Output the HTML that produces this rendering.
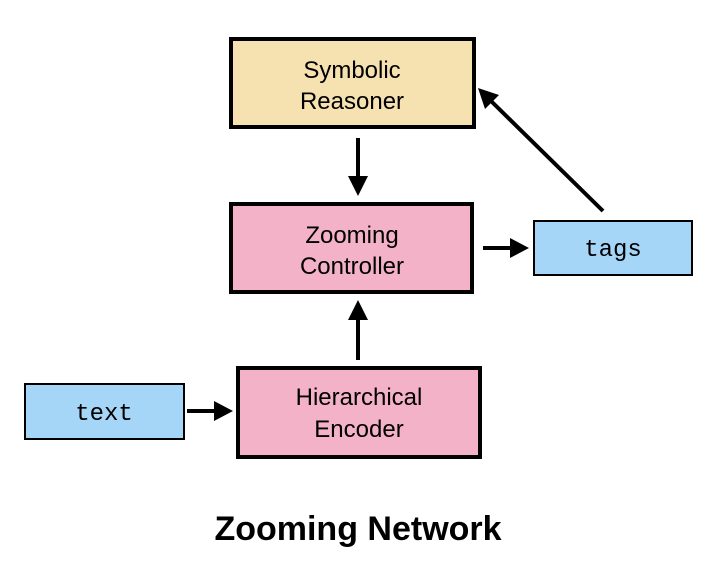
<!DOCTYPE html>
<html><head><style>
body{margin:0;width:720px;height:562px;background:#fff;overflow:hidden}
</style></head><body>
<svg width="720" height="562" xmlns="http://www.w3.org/2000/svg">
<g font-family="Liberation Sans, sans-serif" font-size="24" text-anchor="middle" fill="#000">
<rect x="231" y="39" width="243" height="88" fill="#f6e2b0" stroke="#000" stroke-width="4"/>
<text x="352" y="78">Symbolic</text><text x="352" y="109">Reasoner</text>
<rect x="231" y="204" width="241" height="88" fill="#f3b2c8" stroke="#000" stroke-width="4"/>
<text x="352" y="243">Zooming</text><text x="352" y="274">Controller</text>
<rect x="238" y="368" width="242" height="89" fill="#f3b2c8" stroke="#000" stroke-width="4"/>
<text x="359" y="405">Hierarchical</text><text x="359" y="437">Encoder</text>
<rect x="534" y="221" width="158" height="54" fill="#a5d5f7" stroke="#000" stroke-width="2"/>
<text x="613" y="256" font-family="Liberation Mono, monospace" font-size="24">tags</text>
<rect x="25" y="384" width="159" height="55" fill="#a5d5f7" stroke="#000" stroke-width="2"/>
<text x="104" y="420" font-family="Liberation Mono, monospace" font-size="24">text</text>
<text x="358" y="540" font-weight="bold" font-size="34">Zooming Network</text>
</g>
<g stroke="#000" stroke-width="4" fill="none">
<line x1="358" y1="138" x2="358" y2="178"/>
<line x1="483" y1="248" x2="512" y2="248"/>
<line x1="603" y1="211" x2="491" y2="101"/>
<line x1="358" y1="360" x2="358" y2="318"/>
<line x1="187" y1="411" x2="216" y2="411"/>
</g>
<g fill="#000">
<polygon points="348,176 368,176 358,196"/>
<polygon points="510,238 510,258 529,248"/>
<polygon points="478,88 499,95 485,109"/>
<polygon points="348,320 368,320 358,300"/>
<polygon points="214,401 214,421 233,411"/>
</g>
</svg>
</body></html>
